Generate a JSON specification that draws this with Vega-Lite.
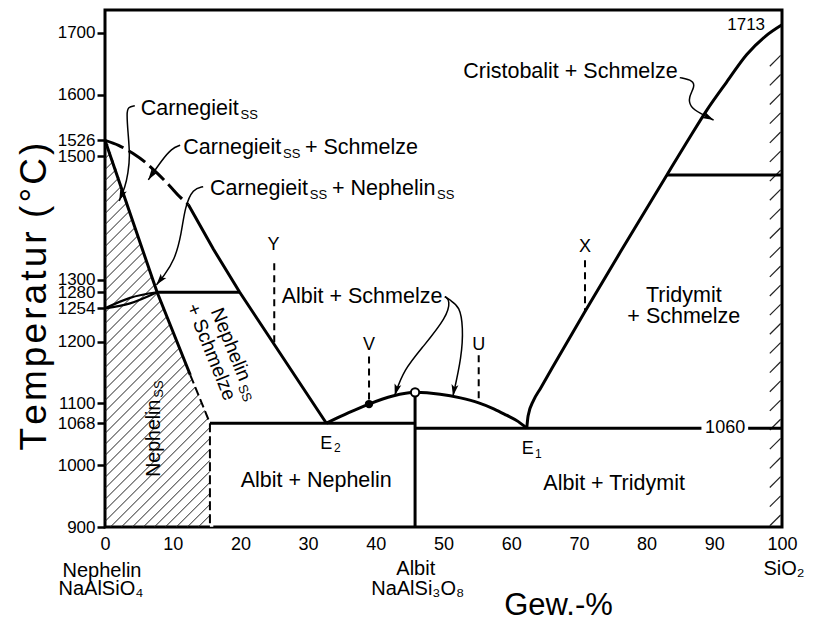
{
  "$schema": "https://vega.github.io/schema/vega-lite/v6.json",
  "width": 677,
  "height": 517,
  "autosize": "none",
  "padding": {"left": 105, "top": 10, "right": 33, "bottom": 94},
  "background": "white",
  "config": {
    "view": {"stroke": "black", "strokeWidth": 3},
    "font": "Liberation Sans",
    "axis": {"labelFont": "Liberation Sans", "titleFont": "Liberation Sans", "labelColor": "black", "titleColor": "black", "tickColor": "black", "domain": false, "grid": false}
  },
  "datasets": {
    "xTicks": [{"x":10},{"x":20},{"x":30},{"x":40},{"x":50},{"x":60},{"x":70},{"x":80},{"x":90}],
    "yTicks": [{"y":1000},{"y":1068},{"y":1100},{"y":1200},{"y":1254},{"y":1280},{"y":1300},{"y":1500},{"y":1526},{"y":1600},{"y":1700}],
    "yTickRight": [{"y":1713}],
    "hatchLeft": [
      {"x":0,"y":731,"x2":15.5,"y2":901},{"x":0,"y":748.8,"x2":15.5,"y2":918.8},{"x":0,"y":766.6,"x2":15.5,"y2":936.6},{"x":0,"y":784.4,"x2":15.5,"y2":954.4},{"x":0,"y":802.2,"x2":15.5,"y2":972.2},{"x":0,"y":820,"x2":15.5,"y2":990},{"x":0,"y":837.8,"x2":15.5,"y2":1007.8},{"x":0,"y":855.6,"x2":15.5,"y2":1025.6},{"x":0,"y":873.4,"x2":15.5,"y2":1043.4},{"x":0,"y":891.2,"x2":15.5,"y2":1061.2},{"x":0,"y":909,"x2":15.5,"y2":1079},{"x":0,"y":926.8,"x2":15.5,"y2":1096.8},{"x":0,"y":944.6,"x2":15.5,"y2":1114.6},{"x":0,"y":962.4,"x2":15.5,"y2":1132.4},{"x":0,"y":980.2,"x2":15.5,"y2":1150.2},{"x":0,"y":998,"x2":15.5,"y2":1168},{"x":0,"y":1015.8,"x2":15.5,"y2":1185.8},{"x":0,"y":1033.6,"x2":15.5,"y2":1203.6},{"x":0,"y":1051.4,"x2":15.5,"y2":1221.4},{"x":0,"y":1069.2,"x2":15.5,"y2":1239.2},{"x":0,"y":1087,"x2":15.5,"y2":1257},{"x":0,"y":1104.8,"x2":15.5,"y2":1274.8},{"x":0,"y":1122.6,"x2":15.5,"y2":1292.6},{"x":0,"y":1140.4,"x2":15.5,"y2":1310.4},{"x":0,"y":1158.2,"x2":15.5,"y2":1328.2},{"x":0,"y":1176,"x2":15.5,"y2":1346},{"x":0,"y":1193.8,"x2":15.5,"y2":1363.8},{"x":0,"y":1211.6,"x2":15.5,"y2":1381.6},{"x":0,"y":1229.4,"x2":15.5,"y2":1399.4},{"x":0,"y":1247.2,"x2":15.5,"y2":1417.2},{"x":0,"y":1265,"x2":15.5,"y2":1435},{"x":0,"y":1282.8,"x2":15.5,"y2":1452.8},{"x":0,"y":1300.6,"x2":15.5,"y2":1470.6},{"x":0,"y":1318.4,"x2":15.5,"y2":1488.4},{"x":0,"y":1336.2,"x2":15.5,"y2":1506.2},{"x":0,"y":1354,"x2":15.5,"y2":1524},{"x":0,"y":1371.8,"x2":15.5,"y2":1541.8},{"x":0,"y":1389.6,"x2":15.5,"y2":1559.6},{"x":0,"y":1407.4,"x2":15.5,"y2":1577.4},{"x":0,"y":1425.2,"x2":15.5,"y2":1595.2},{"x":0,"y":1443,"x2":15.5,"y2":1613},{"x":0,"y":1460.8,"x2":15.5,"y2":1630.8},{"x":0,"y":1478.6,"x2":15.5,"y2":1648.6},{"x":0,"y":1496.4,"x2":15.5,"y2":1666.4},{"x":0,"y":1514.2,"x2":15.5,"y2":1684.2}
    ],
    "mask": [
      {"y":1700,"x":0.3},{"y":1526,"x":0.3},{"y":1280,"x":7.7},{"y":1146,"x":12.6},{"y":1068,"x":15.5},{"y":900.5,"x":15.5}
    ],
    "hatchRight": [
      {"x":98.2,"y":902,"x2":99.8,"y2":919.5},{"x":98.2,"y":933,"x2":99.8,"y2":950.5},{"x":98.2,"y":964,"x2":99.8,"y2":981.5},{"x":98.2,"y":995,"x2":99.8,"y2":1012.5},{"x":98.2,"y":1026,"x2":99.8,"y2":1043.5},{"x":98.2,"y":1057,"x2":99.8,"y2":1074.5},{"x":98.2,"y":1088,"x2":99.8,"y2":1105.5},{"x":98.2,"y":1119,"x2":99.8,"y2":1136.5},{"x":98.2,"y":1150,"x2":99.8,"y2":1167.5},{"x":98.2,"y":1181,"x2":99.8,"y2":1198.5},{"x":98.2,"y":1212,"x2":99.8,"y2":1229.5},{"x":98.2,"y":1243,"x2":99.8,"y2":1260.5},{"x":98.2,"y":1274,"x2":99.8,"y2":1291.5},{"x":98.2,"y":1305,"x2":99.8,"y2":1322.5},{"x":98.2,"y":1336,"x2":99.8,"y2":1353.5},{"x":98.2,"y":1367,"x2":99.8,"y2":1384.5},{"x":98.2,"y":1398,"x2":99.8,"y2":1415.5},{"x":98.2,"y":1429,"x2":99.8,"y2":1446.5},{"x":98.2,"y":1460,"x2":99.8,"y2":1477.5},{"x":98.2,"y":1491,"x2":99.8,"y2":1508.5},{"x":98.2,"y":1522,"x2":99.8,"y2":1539.5},{"x":98.2,"y":1553,"x2":99.8,"y2":1570.5},{"x":98.2,"y":1584,"x2":99.8,"y2":1601.5},{"x":98.2,"y":1615,"x2":99.8,"y2":1632.5},{"x":98.2,"y":1646,"x2":99.8,"y2":1663.5}
    ],
    "straightThick": [
      {"seg":"S1","i":1,"x":0,"y":1526},{"seg":"S1","i":2,"x":7.7,"y":1280},{"seg":"S1","i":3,"x":12.6,"y":1146},
      {"seg":"S2","i":1,"x":12.3,"y":1422},{"seg":"S2","i":2,"x":16,"y":1350},{"seg":"S2","i":3,"x":19.9,"y":1280},{"seg":"S2","i":4,"x":32.7,"y":1068},
      {"seg":"S3","i":1,"x":7.7,"y":1280},{"seg":"S3","i":2,"x":19.9,"y":1280},
      {"seg":"S4","i":1,"x":15.5,"y":1068},{"seg":"S4","i":2,"x":45.8,"y":1068},
      {"seg":"S5","i":1,"x":45.8,"y":900},{"seg":"S5","i":2,"x":45.8,"y":1112},
      {"seg":"S6","i":1,"x":45.8,"y":1060},{"seg":"S6","i":2,"x":88.1,"y":1060},
      {"seg":"S7","i":1,"x":95,"y":1060},{"seg":"S7","i":2,"x":100,"y":1060},
      {"seg":"S8","i":1,"x":83,"y":1470},{"seg":"S8","i":2,"x":100,"y":1470}
    ],
    "curveThick": [
      {"seg":"C1","i":1,"x":32.7,"y":1068},{"seg":"C1","i":2,"x":36,"y":1085},{"seg":"C1","i":3,"x":39,"y":1099},{"seg":"C1","i":4,"x":42.5,"y":1112},{"seg":"C1","i":5,"x":45.8,"y":1118},{"seg":"C1","i":6,"x":49.5,"y":1115},{"seg":"C1","i":7,"x":52.5,"y":1109},{"seg":"C1","i":8,"x":55.2,"y":1101},{"seg":"C1","i":9,"x":57.5,"y":1091},{"seg":"C1","i":10,"x":59.3,"y":1081},{"seg":"C1","i":11,"x":61,"y":1071},{"seg":"C1","i":12,"x":62.3,"y":1060},
      {"seg":"C2","i":1,"x":62.3,"y":1060},{"seg":"C2","i":2,"x":62.5,"y":1080},{"seg":"C2","i":3,"x":63.3,"y":1105},{"seg":"C2","i":4,"x":64.3,"y":1124},{"seg":"C2","i":5,"x":70.9,"y":1249},{"seg":"C2","i":6,"x":76.5,"y":1352},{"seg":"C2","i":7,"x":83,"y":1470},{"seg":"C2","i":8,"x":86,"y":1524},{"seg":"C2","i":9,"x":88.9,"y":1575},{"seg":"C2","i":10,"x":91.8,"y":1620},{"seg":"C2","i":11,"x":94.8,"y":1665},{"seg":"C2","i":12,"x":97.5,"y":1694},{"seg":"C2","i":13,"x":100,"y":1713}
    ],
    "dashedThick": [
      {"x":0,"y":1526},{"x":2,"y":1518},{"x":4.1,"y":1505},{"x":6,"y":1490},{"x":7.7,"y":1473},{"x":9.5,"y":1453},{"x":11.1,"y":1434},{"x":12.3,"y":1422}
    ],
    "dashedMid": [
      {"i":1,"x":12.6,"y":1146},{"i":2,"x":15.5,"y":1068},{"i":3,"x":15.5,"y":900}
    ],
    "lens": [
      {"seg":"up","x":0,"y":1254},{"seg":"up","x":3.7,"y":1271},{"seg":"up","x":7.7,"y":1280},
      {"seg":"lo","x":0,"y":1254},{"seg":"lo","x":3.7,"y":1262},{"seg":"lo","x":7.7,"y":1280}
    ],
    "guides": [
      {"seg":"X","i":1,"x":70.9,"y":1332},{"seg":"X","i":2,"x":70.9,"y":1249},
      {"seg":"Y","i":1,"x":25,"y":1327},{"seg":"Y","i":2,"x":25,"y":1196},
      {"seg":"V","i":1,"x":39,"y":1176},{"seg":"V","i":2,"x":39,"y":1099},
      {"seg":"U","i":1,"x":55.2,"y":1178},{"seg":"U","i":2,"x":55.2,"y":1101}
    ],
    "arrows": [
      {"arrow":"A1","i":1,"x":4.4,"y":1582},{"arrow":"A1","i":2,"x":3.4,"y":1580},{"arrow":"A1","i":3,"x":3.2,"y":1570},{"arrow":"A1","i":4,"x":3.4,"y":1538},{"arrow":"A1","i":5,"x":3.7,"y":1500},{"arrow":"A1","i":6,"x":3.4,"y":1473},{"arrow":"A1","i":7,"x":3.0,"y":1451},{"arrow":"A1","i":8,"x":2.1,"y":1428},
      {"arrow":"A2","i":1,"x":11.1,"y":1518},{"arrow":"A2","i":2,"x":9.85,"y":1513},{"arrow":"A2","i":3,"x":8.4,"y":1494},{"arrow":"A2","i":4,"x":6.4,"y":1462},
      {"arrow":"A3","i":1,"x":14.5,"y":1451},{"arrow":"A3","i":2,"x":13.0,"y":1448},{"arrow":"A3","i":3,"x":11.8,"y":1418},{"arrow":"A3","i":4,"x":11.3,"y":1375},{"arrow":"A3","i":5,"x":10.3,"y":1332},{"arrow":"A3","i":6,"x":8.6,"y":1305},{"arrow":"A3","i":7,"x":7.6,"y":1292},
      {"arrow":"A4","i":1,"x":50.2,"y":1273},{"arrow":"A4","i":2,"x":51,"y":1267},{"arrow":"A4","i":3,"x":50.5,"y":1240},{"arrow":"A4","i":4,"x":47,"y":1192},{"arrow":"A4","i":5,"x":44.1,"y":1154},{"arrow":"A4","i":6,"x":42.8,"y":1113},
      {"arrow":"A5","i":1,"x":50.2,"y":1273},{"arrow":"A5","i":2,"x":51,"y":1267},{"arrow":"A5","i":3,"x":52.4,"y":1257},{"arrow":"A5","i":4,"x":52.9,"y":1224},{"arrow":"A5","i":5,"x":52.7,"y":1176},{"arrow":"A5","i":6,"x":51.4,"y":1112},
      {"arrow":"A6","i":1,"x":84.9,"y":1627.5},{"arrow":"A6","i":2,"x":86.9,"y":1623},{"arrow":"A6","i":3,"x":87.1,"y":1612.6},{"arrow":"A6","i":4,"x":86.2,"y":1596},{"arrow":"A6","i":5,"x":86.4,"y":1580},{"arrow":"A6","i":6,"x":87.9,"y":1569.6},{"arrow":"A6","i":7,"x":89.9,"y":1558.8}
    ],
    "textsLeft": [
      {"label":"Carnegieit","x":5.27,"y":1566.8},
      {"label":"Carnegieit","x":11.57,"y":1503.7},
      {"label":"+ Schmelze","x":29.54,"y":1503.7},
      {"label":"Carnegieit","x":15.5,"y":1437.3},
      {"label":"+ Nephelin","x":33.53,"y":1437.3},
      {"label":"Albit + Schmelze","x":26.1,"y":1262.6}
    ],
    "subsSS": [
      {"label":"SS","x":20.01,"y":1560.4},
      {"label":"SS","x":26.3,"y":1497.2},
      {"label":"SS","x":30.24,"y":1430.9},
      {"label":"SS","x":49.04,"y":1430.9}
    ],
    "textsCenter": [
      {"label":"Albit + Nephelin","x":31.2,"y":965.2},
      {"label":"Albit + Tridymit","x":75.2,"y":959.9},
      {"label":"Tridymit","x":85.5,"y":1264.6},
      {"label":"+ Schmelze","x":85.5,"y":1229.7}
    ],
    "textsRight": [
      {"label":"Cristobalit + Schmelze","x":84.6,"y":1626.2}
    ],
    "letters": [
      {"label":"Y","x":24.9,"y":1348.3},
      {"label":"X","x":70.9,"y":1345.6},
      {"label":"V","x":39.0,"y":1186.5},
      {"label":"U","x":55.2,"y":1186.5}
    ],
    "eLabels": [
      {"label":"E","x":31.8,"y":1026.2},
      {"label":"E","x":61.55,"y":1018.2}
    ],
    "eSubs": [
      {"label":"2","x":33.83,"y":1021.4},
      {"label":"1","x":63.5,"y":1011.7}
    ],
    "rot270": [{"label":"Nephelin","x":8.12,"y":981.4}],
    "rot270sub": [{"label":"SS","x":8.57,"y":1109.3}],
    "rot68": [
      {"label":"Nephelin","x":15.6,"y":1249.7},
      {"label":"+ Schmelze","x":12.0,"y":1256.6}
    ],
    "rot68sub": [{"label":"SS","x":19.6,"y":1127.2}],
    "axisSub": [
      {"label":"Nephelin","x":-0.44,"y":819.1},
      {"label":"NaAlSiO₄","x":-0.6,"y":790},
      {"label":"Albit","x":45.9,"y":822.3},
      {"label":"NaAlSi₃O₈","x":46.2,"y":790},
      {"label":"SiO₂","x":100.3,"y":822.3}
    ],
    "num1713": [{"label":"1713","x":97.5,"y":1713}],
    "num1060": [{"label":"1060","x":91.6,"y":1060}],
    "dotV": [{"x":39,"y":1099}],
    "dotAlbit": [{"x":45.8,"y":1118}]
  },
  "encoding": {
    "x": {"field": "x", "type": "quantitative",
      "scale": {"domain": [0, 100], "nice": false, "zero": false},
      "axis": {"orient": "bottom", "values": [0,10,20,30,40,50,60,70,80,90,100], "ticks": false, "labelFontSize": 18, "labelPadding": 8, "labelFlush": false,
        "title": "Gew.-%", "titleFontSize": 31, "titleFontWeight": "normal", "titleX": 453, "titleY": 87, "titleBaseline": "alphabetic", "titleAlign": "center"}},
    "y": {"field": "y", "type": "quantitative",
      "scale": {"domain": [900, 1737], "nice": false, "zero": false},
      "axis": {"orient": "left", "values": [900,1000,1068,1100,1200,1254,1280,1300,1500,1526,1600,1700], "format": "d", "tickSize": 8, "tickWidth": 2.5, "labelFontSize": 17, "labelPadding": 2, "labelOverlap": false, "labelFlush": false,
        "title": "T\u200ae\u200am\u200ap\u200ae\u200ar\u200aa\u200at\u200au\u200ar \u200a(\u200a°\u200aC\u200a)", "titleFontSize": 37, "titleFontWeight": "normal", "titleX": -60, "titleY": 286, "titleBaseline": "alphabetic", "titleAlign": "center", "titleAngle": 270}}
  },
  "layer": [
    {"data": {"name": "hatchLeft"}, "mark": {"type": "rule", "clip": true, "strokeWidth": 1, "color": "#222"},
     "encoding": {"x2": {"field": "x2"}, "y2": {"field": "y2"}}},
    {"data": {"name": "mask"}, "mark": {"type": "area", "orient": "horizontal", "color": "white", "opacity": 1, "clip": true},
     "encoding": {"x2": {"datum": 16}}},
    {"data": {"name": "hatchRight"}, "mark": {"type": "rule", "clip": true, "strokeWidth": 1.2, "color": "#222"},
     "encoding": {"x2": {"field": "x2"}, "y2": {"field": "y2"}}},
    {"data": {"name": "xTicks"}, "mark": {"type": "rule", "strokeWidth": 2.5, "color": "black"},
     "encoding": {"y": {"datum": 1737}, "y2": {"datum": 1720.8}}},
    {"data": {"name": "xTicks"}, "mark": {"type": "rule", "strokeWidth": 2.5, "color": "black"},
     "encoding": {"y": {"datum": 900}, "y2": {"datum": 916.2}}},
    {"data": {"name": "yTicks"}, "mark": {"type": "rule", "strokeWidth": 2.5, "color": "black"},
     "encoding": {"x": {"datum": 0}, "x2": {"datum": 1.5}}},
    {"data": {"name": "yTickRight"}, "mark": {"type": "rule", "strokeWidth": 2.5, "color": "black"},
     "encoding": {"x": {"datum": 98.1}, "x2": {"datum": 100}}},
    {"data": {"name": "straightThick"}, "mark": {"type": "line", "strokeWidth": 3, "color": "black", "strokeCap": "butt"},
     "encoding": {"detail": {"field": "seg"}, "order": {"field": "i"}}},
    {"data": {"name": "curveThick"}, "mark": {"type": "line", "strokeWidth": 3, "color": "black", "interpolate": "monotone"},
     "encoding": {"detail": {"field": "seg"}, "order": {"field": "i"}}},
    {"data": {"name": "dashedThick"}, "mark": {"type": "line", "strokeWidth": 3, "color": "black", "interpolate": "monotone", "strokeDash": [20, 6]},
     "encoding": {}},
    {"data": {"name": "dashedMid"}, "mark": {"type": "line", "strokeWidth": 2, "color": "black", "strokeDash": [9, 4]},
     "encoding": {"order": {"field": "i"}}},
    {"data": {"name": "lens"}, "mark": {"type": "line", "strokeWidth": 2.2, "color": "black", "interpolate": "monotone"},
     "encoding": {"detail": {"field": "seg"}}},
    {"data": {"name": "guides"}, "mark": {"type": "line", "strokeWidth": 2, "color": "black", "strokeDash": [7, 5]},
     "encoding": {"detail": {"field": "seg"}, "order": {"field": "i"}}},
    {"data": {"name": "arrows"}, "mark": {"type": "line", "strokeWidth": 1.5, "color": "black", "interpolate": "basis"},
     "encoding": {"detail": {"field": "arrow"}, "order": {"field": "i"}}},
    {"data": {"values": [{"x": 2.1, "y": 1428}]}, "mark": {"type": "point", "shape": "M0,0L0.7,2.3L0,1.8L-0.7,2.3Z", "filled": true, "color": "black", "opacity": 1, "size": 100, "angle": 202}},
    {"data": {"values": [{"x": 6.4, "y": 1462}]}, "mark": {"type": "point", "shape": "M0,0L0.7,2.3L0,1.8L-0.7,2.3Z", "filled": true, "color": "black", "opacity": 1, "size": 100, "angle": 214}},
    {"data": {"values": [{"x": 7.6, "y": 1292}]}, "mark": {"type": "point", "shape": "M0,0L0.7,2.3L0,1.8L-0.7,2.3Z", "filled": true, "color": "black", "opacity": 1, "size": 100, "angle": 218}},
    {"data": {"values": [{"x": 42.8, "y": 1113}]}, "mark": {"type": "point", "shape": "M0,0L0.7,2.3L0,1.8L-0.7,2.3Z", "filled": true, "color": "black", "opacity": 1, "size": 100, "angle": 196}},
    {"data": {"values": [{"x": 51.4, "y": 1112}]}, "mark": {"type": "point", "shape": "M0,0L0.7,2.3L0,1.8L-0.7,2.3Z", "filled": true, "color": "black", "opacity": 1, "size": 100, "angle": 190}},
    {"data": {"values": [{"x": 89.9, "y": 1558.8}]}, "mark": {"type": "point", "shape": "M0,0L0.7,2.3L0,1.8L-0.7,2.3Z", "filled": true, "color": "black", "opacity": 1, "size": 100, "angle": 117}},
    {"data": {"name": "dotV"}, "mark": {"type": "point", "shape": "circle", "filled": true, "color": "black", "opacity": 1, "size": 70}},
    {"data": {"name": "dotAlbit"}, "mark": {"type": "point", "shape": "circle", "filled": true, "fill": "white", "stroke": "black", "strokeWidth": 2, "opacity": 1, "size": 70}},
    {"data": {"name": "textsLeft"}, "mark": {"type": "text", "align": "left", "baseline": "alphabetic", "fontSize": 21.5, "font": "Liberation Sans", "color": "black"},
     "encoding": {"text": {"field": "label"}}},
    {"data": {"name": "subsSS"}, "mark": {"type": "text", "align": "left", "baseline": "alphabetic", "fontSize": 13, "font": "Liberation Sans", "color": "black"},
     "encoding": {"text": {"field": "label"}}},
    {"data": {"name": "textsCenter"}, "mark": {"type": "text", "align": "center", "baseline": "alphabetic", "fontSize": 21.5, "font": "Liberation Sans", "color": "black"},
     "encoding": {"text": {"field": "label"}}},
    {"data": {"name": "textsRight"}, "mark": {"type": "text", "align": "right", "baseline": "alphabetic", "fontSize": 21.5, "font": "Liberation Sans", "color": "black"},
     "encoding": {"text": {"field": "label"}}},
    {"data": {"name": "letters"}, "mark": {"type": "text", "align": "center", "baseline": "alphabetic", "fontSize": 18, "font": "Liberation Sans", "color": "black"},
     "encoding": {"text": {"field": "label"}}},
    {"data": {"name": "eLabels"}, "mark": {"type": "text", "align": "left", "baseline": "alphabetic", "fontSize": 18, "font": "Liberation Sans", "color": "black"},
     "encoding": {"text": {"field": "label"}}},
    {"data": {"name": "eSubs"}, "mark": {"type": "text", "align": "left", "baseline": "alphabetic", "fontSize": 12, "font": "Liberation Sans", "color": "black"},
     "encoding": {"text": {"field": "label"}}},
    {"data": {"name": "rot270"}, "mark": {"type": "text", "align": "left", "baseline": "alphabetic", "fontSize": 19.5, "angle": 270, "font": "Liberation Sans", "color": "black"},
     "encoding": {"text": {"field": "label"}}},
    {"data": {"name": "rot270sub"}, "mark": {"type": "text", "align": "left", "baseline": "alphabetic", "fontSize": 13, "angle": 270, "font": "Liberation Sans", "color": "black"},
     "encoding": {"text": {"field": "label"}}},
    {"data": {"name": "rot68"}, "mark": {"type": "text", "align": "left", "baseline": "alphabetic", "fontSize": 19.5, "angle": 68, "font": "Liberation Sans", "color": "black"},
     "encoding": {"text": {"field": "label"}}},
    {"data": {"name": "rot68sub"}, "mark": {"type": "text", "align": "left", "baseline": "alphabetic", "fontSize": 13, "angle": 68, "font": "Liberation Sans", "color": "black"},
     "encoding": {"text": {"field": "label"}}},
    {"data": {"name": "axisSub"}, "mark": {"type": "text", "align": "center", "baseline": "alphabetic", "fontSize": 20, "font": "Liberation Sans", "color": "black"},
     "encoding": {"text": {"field": "label"}}},
    {"data": {"name": "num1713"}, "mark": {"type": "text", "align": "right", "baseline": "middle", "fontSize": 17, "font": "Liberation Sans", "color": "black"},
     "encoding": {"text": {"field": "label"}}},
    {"data": {"name": "num1060"}, "mark": {"type": "text", "align": "center", "baseline": "middle", "fontSize": 18, "font": "Liberation Sans", "color": "black"},
     "encoding": {"text": {"field": "label"}}}
  ]
}
